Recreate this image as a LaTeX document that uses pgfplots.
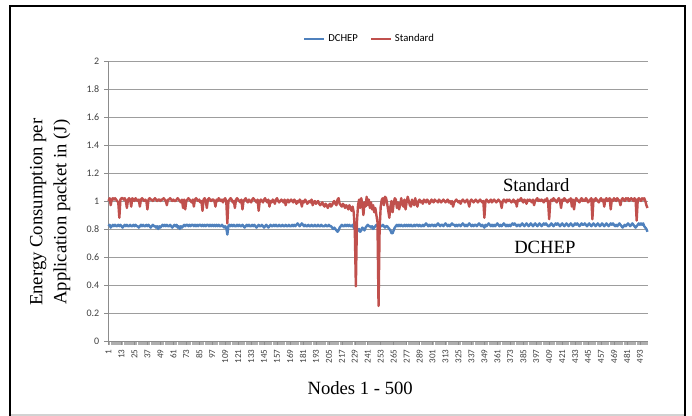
\documentclass[border=0pt]{standalone}
\usepackage{fontspec}
\setmainfont{Liberation Serif}
\newfontfamily\calibri{Carlito}
\usepackage{pgfplots}
\usepackage{pgfplotstable}
\pgfplotsset{compat=1.18}

\definecolor{xlblue}{HTML}{4F81BD}
\definecolor{xlred}{HTML}{C0504D}
\definecolor{xlgrid}{HTML}{8C8C8C}

% Standard, nodes 1-500
\pgfplotstableread[header=false,row sep=\\]{
1.00\\1.02\\0.97\\1.01\\1.02\\1.01\\1.02\\1.01\\1.00\\0.99\\
0.88\\1.01\\1.02\\1.02\\1.01\\1.02\\1.00\\0.95\\1.01\\1.02\\
1.01\\0.96\\1.02\\1.01\\1.00\\1.02\\1.01\\1.00\\1.01\\0.96\\
1.01\\1.02\\1.01\\1.00\\1.01\\1.00\\0.94\\1.01\\1.02\\1.01\\
1.01\\1.00\\1.01\\1.02\\1.01\\1.00\\1.01\\1.01\\1.00\\1.01\\
1.01\\1.02\\1.01\\1.00\\0.97\\1.01\\1.01\\1.02\\1.01\\1.00\\
1.01\\1.00\\1.00\\1.01\\1.02\\1.01\\1.00\\0.99\\1.01\\0.95\\
1.01\\0.94\\1.00\\1.01\\1.02\\1.01\\1.00\\0.99\\1.01\\0.96\\
1.01\\1.02\\1.01\\1.00\\1.01\\0.99\\1.00\\0.93\\1.01\\1.02\\
1.00\\0.95\\1.01\\1.02\\1.01\\1.00\\1.01\\1.01\\1.00\\0.96\\
1.01\\1.00\\1.02\\1.01\\1.00\\1.01\\0.99\\1.01\\1.02\\1.00\\
0.84\\1.00\\1.01\\1.02\\1.01\\0.99\\1.00\\0.95\\1.01\\1.02\\
1.01\\1.00\\0.99\\1.01\\0.94\\1.00\\1.01\\1.02\\1.00\\0.99\\
1.01\\1.00\\0.99\\1.01\\1.02\\1.01\\1.00\\0.99\\1.01\\0.93\\
1.00\\1.01\\1.00\\0.99\\1.01\\1.02\\1.00\\0.99\\1.01\\0.96\\
1.00\\0.99\\1.01\\1.00\\0.98\\1.01\\1.02\\1.00\\0.99\\1.00\\
1.01\\1.00\\0.99\\1.01\\0.97\\1.00\\1.01\\0.99\\1.00\\1.01\\
1.00\\0.99\\1.01\\1.00\\0.98\\1.00\\0.99\\1.01\\1.00\\0.96\\
1.00\\0.99\\1.01\\1.00\\0.98\\0.99\\1.00\\0.99\\1.01\\0.97\\
0.99\\1.00\\0.98\\0.99\\1.00\\0.98\\0.97\\0.98\\0.99\\0.97\\
0.96\\0.98\\0.97\\0.95\\0.97\\0.98\\0.96\\0.97\\0.99\\1.00\\
0.98\\0.97\\1.01\\1.02\\0.98\\0.97\\0.96\\0.98\\0.97\\0.95\\
0.97\\0.96\\0.94\\0.97\\0.95\\0.93\\0.96\\0.92\\0.80\\0.39\\
0.85\\0.97\\1.01\\0.95\\1.02\\0.98\\0.90\\0.99\\0.96\\1.03\\
0.97\\1.01\\0.95\\0.99\\0.94\\0.97\\0.92\\0.95\\0.90\\0.85\\
0.25\\0.80\\0.96\\1.01\\1.02\\0.97\\1.03\\1.02\\0.98\\0.93\\
0.88\\0.96\\1.00\\0.92\\0.98\\1.02\\1.01\\0.95\\0.99\\0.94\\
0.97\\1.02\\0.98\\0.96\\1.01\\0.94\\0.99\\1.03\\1.00\\0.97\\
0.96\\1.01\\0.99\\0.97\\1.02\\0.98\\0.96\\1.00\\1.01\\0.99\\
1.00\\0.98\\1.01\\1.00\\0.99\\1.01\\1.00\\0.98\\0.99\\1.01\\
1.00\\0.99\\1.01\\1.00\\1.00\\0.99\\1.01\\1.00\\0.99\\1.00\\
1.01\\1.00\\0.99\\1.00\\1.01\\0.99\\1.00\\0.98\\1.00\\0.96\\
0.99\\1.00\\1.01\\1.00\\0.99\\1.00\\0.98\\1.00\\1.01\\1.00\\
0.99\\1.00\\1.01\\0.99\\0.96\\1.00\\1.01\\1.00\\0.99\\1.00\\
1.01\\1.00\\0.99\\1.00\\1.01\\1.00\\0.99\\1.00\\0.88\\1.00\\
1.01\\1.00\\0.99\\1.00\\1.01\\0.99\\1.00\\1.01\\1.00\\0.99\\
1.00\\1.01\\1.00\\0.99\\0.95\\1.00\\1.01\\1.00\\0.99\\1.01\\
1.00\\1.01\\1.00\\0.99\\1.00\\1.01\\0.99\\1.00\\0.96\\1.01\\
1.00\\1.01\\1.02\\1.00\\0.99\\1.01\\1.00\\0.98\\1.01\\1.00\\
1.01\\1.00\\0.99\\1.01\\0.97\\1.00\\1.01\\1.02\\1.00\\1.01\\
1.00\\1.01\\1.00\\0.99\\1.01\\1.00\\1.02\\0.99\\0.87\\1.00\\
1.01\\1.00\\1.02\\1.01\\1.00\\0.99\\1.01\\1.02\\1.00\\0.95\\
1.01\\1.00\\1.02\\1.01\\1.00\\0.99\\1.01\\1.00\\1.02\\0.96\\
1.01\\0.94\\1.00\\1.02\\1.01\\1.00\\0.99\\1.01\\1.02\\1.00\\
1.01\\1.00\\1.02\\1.01\\0.99\\1.00\\1.01\\1.02\\0.87\\1.01\\
1.00\\1.02\\1.01\\1.00\\0.99\\1.01\\1.02\\1.00\\1.01\\0.96\\
1.01\\1.02\\1.00\\1.01\\1.02\\0.94\\1.01\\1.00\\1.02\\1.01\\
1.00\\1.02\\1.01\\1.00\\0.97\\1.01\\1.02\\1.01\\1.00\\1.02\\
1.01\\1.02\\1.00\\1.01\\1.02\\1.01\\1.00\\1.02\\1.01\\0.86\\
1.01\\1.02\\1.01\\1.00\\1.02\\1.01\\1.02\\1.00\\0.97\\0.95\\
}\standardtab

% DCHEP, nodes 1-500
\pgfplotstableread[header=false,row sep=\\]{
0.82\\0.83\\0.81\\0.82\\0.83\\0.82\\0.83\\0.82\\0.82\\0.83\\
0.82\\0.83\\0.82\\0.81\\0.82\\0.83\\0.82\\0.83\\0.82\\0.82\\
0.83\\0.82\\0.82\\0.83\\0.82\\0.83\\0.82\\0.82\\0.81\\0.82\\
0.83\\0.82\\0.83\\0.82\\0.82\\0.83\\0.82\\0.83\\0.82\\0.81\\
0.82\\0.83\\0.82\\0.82\\0.81\\0.82\\0.80\\0.82\\0.81\\0.82\\
0.83\\0.82\\0.83\\0.82\\0.83\\0.82\\0.82\\0.83\\0.82\\0.81\\
0.82\\0.83\\0.82\\0.83\\0.81\\0.82\\0.80\\0.82\\0.81\\0.82\\
0.83\\0.82\\0.83\\0.83\\0.82\\0.83\\0.82\\0.83\\0.83\\0.82\\
0.83\\0.82\\0.83\\0.82\\0.83\\0.83\\0.82\\0.83\\0.82\\0.83\\
0.82\\0.83\\0.83\\0.82\\0.83\\0.82\\0.83\\0.82\\0.83\\0.82\\
0.83\\0.82\\0.83\\0.82\\0.82\\0.83\\0.82\\0.81\\0.82\\0.81\\
0.76\\0.82\\0.83\\0.82\\0.83\\0.82\\0.83\\0.82\\0.82\\0.83\\
0.82\\0.83\\0.82\\0.82\\0.83\\0.82\\0.81\\0.82\\0.83\\0.82\\
0.83\\0.82\\0.82\\0.83\\0.82\\0.83\\0.82\\0.81\\0.82\\0.83\\
0.82\\0.82\\0.83\\0.82\\0.81\\0.82\\0.83\\0.82\\0.81\\0.82\\
0.83\\0.82\\0.82\\0.83\\0.82\\0.83\\0.82\\0.82\\0.83\\0.82\\
0.82\\0.83\\0.82\\0.82\\0.83\\0.82\\0.82\\0.83\\0.82\\0.82\\
0.83\\0.82\\0.83\\0.82\\0.83\\0.84\\0.83\\0.82\\0.83\\0.84\\
0.83\\0.82\\0.83\\0.82\\0.82\\0.83\\0.82\\0.82\\0.83\\0.82\\
0.82\\0.83\\0.82\\0.82\\0.83\\0.82\\0.82\\0.83\\0.82\\0.82\\
0.82\\0.83\\0.82\\0.82\\0.83\\0.82\\0.82\\0.81\\0.80\\0.81\\
0.80\\0.79\\0.78\\0.79\\0.81\\0.82\\0.83\\0.82\\0.82\\0.83\\
0.82\\0.83\\0.82\\0.83\\0.82\\0.82\\0.83\\0.81\\0.80\\0.79\\
0.78\\0.79\\0.80\\0.78\\0.79\\0.81\\0.80\\0.79\\0.81\\0.82\\
0.83\\0.82\\0.82\\0.81\\0.82\\0.80\\0.81\\0.82\\0.83\\0.82\\
0.82\\0.83\\0.82\\0.82\\0.83\\0.82\\0.81\\0.82\\0.82\\0.81\\
0.80\\0.79\\0.77\\0.77\\0.79\\0.81\\0.82\\0.83\\0.82\\0.83\\
0.82\\0.83\\0.82\\0.82\\0.83\\0.82\\0.83\\0.82\\0.83\\0.82\\
0.83\\0.82\\0.82\\0.83\\0.82\\0.83\\0.83\\0.82\\0.83\\0.82\\
0.82\\0.83\\0.82\\0.83\\0.84\\0.83\\0.82\\0.83\\0.82\\0.83\\
0.83\\0.82\\0.83\\0.82\\0.83\\0.84\\0.83\\0.82\\0.83\\0.83\\
0.82\\0.83\\0.84\\0.83\\0.82\\0.83\\0.82\\0.83\\0.84\\0.83\\
0.83\\0.82\\0.83\\0.82\\0.83\\0.83\\0.82\\0.83\\0.84\\0.83\\
0.82\\0.83\\0.82\\0.83\\0.84\\0.83\\0.82\\0.83\\0.82\\0.83\\
0.83\\0.82\\0.83\\0.84\\0.83\\0.82\\0.83\\0.82\\0.81\\0.83\\
0.82\\0.83\\0.84\\0.83\\0.82\\0.83\\0.82\\0.83\\0.82\\0.83\\
0.84\\0.83\\0.82\\0.83\\0.82\\0.83\\0.84\\0.83\\0.82\\0.83\\
0.82\\0.83\\0.82\\0.83\\0.84\\0.83\\0.84\\0.83\\0.82\\0.83\\
0.83\\0.82\\0.83\\0.84\\0.83\\0.82\\0.83\\0.84\\0.83\\0.82\\
0.83\\0.84\\0.83\\0.82\\0.83\\0.84\\0.83\\0.82\\0.83\\0.84\\
0.83\\0.82\\0.83\\0.84\\0.83\\0.84\\0.83\\0.82\\0.82\\0.83\\
0.84\\0.83\\0.82\\0.83\\0.84\\0.83\\0.84\\0.83\\0.82\\0.83\\
0.84\\0.83\\0.82\\0.83\\0.84\\0.83\\0.82\\0.83\\0.84\\0.83\\
0.82\\0.83\\0.84\\0.83\\0.84\\0.83\\0.82\\0.83\\0.84\\0.83\\
0.83\\0.84\\0.83\\0.82\\0.83\\0.84\\0.83\\0.82\\0.83\\0.84\\
0.83\\0.82\\0.83\\0.84\\0.83\\0.82\\0.83\\0.84\\0.83\\0.82\\
0.83\\0.84\\0.83\\0.82\\0.83\\0.84\\0.83\\0.84\\0.83\\0.82\\
0.83\\0.82\\0.83\\0.84\\0.83\\0.82\\0.81\\0.82\\0.83\\0.82\\
0.83\\0.84\\0.83\\0.82\\0.83\\0.84\\0.83\\0.82\\0.81\\0.82\\
0.83\\0.84\\0.83\\0.84\\0.83\\0.84\\0.82\\0.81\\0.80\\0.78\\
}\dchieptab

\begin{document}
\begin{tikzpicture}[x=0.75pt,y=0.75pt]
  \path[use as bounding box] (0,0) rectangle (692,416);
  % chart frame
  \draw[gray!35, line width=0.8pt] (10,1) -- (685,1);
  \draw[black, line width=2.2pt] (10,-20) -- (10,410) -- (685,410) -- (685,-20);

  \begin{axis}[
    at={(81pt,56.25pt)}, anchor=south west,
    scale only axis, width=405pt, height=210pt,
    xmin=0.5, xmax=500.5, ymin=0, ymax=2,
    axis x line*=bottom, axis y line*=left,
    axis line style={xlgrid, line width=0.6pt},
    ytick={0,0.2,0.4,0.6,0.8,1,1.2,1.4,1.6,1.8,2},
    yticklabels={0,0.2,0.4,0.6,0.8,1,1.2,1.4,1.6,1.8,2},
    xtick={1,13,...,493},
    minor xtick={1,...,500},
    ymajorgrids, grid style={xlgrid!85, line width=0.6pt},
    tick align=outside,
    major tick length=3pt, minor tick length=3pt,
    tick style={xlgrid, line width=0.4pt},
    minor tick style={xlgrid!70, line width=0.2pt},
    /pgf/number format/assume math mode=true,
    ticklabel style={font=\calibri\fontsize{7.5}{8}\selectfont, text=black!75},
    x tick label style={rotate=90, anchor=east, font=\calibri\fontsize{6.8}{7}\selectfont},
    xlabel={Nodes 1 - 500},
    xlabel style={at={(axis description cs:0.467,-0.168)}, anchor=center,
      font=\fontsize{14}{17}\selectfont},
    ylabel={Energy Consumption per\\Application packet in (J)},
    ylabel style={at={(axis description cs:-0.107,0.46)}, anchor=center,
      align=center, font=\fontsize{14}{18}\selectfont},
    legend columns=2,
    legend style={at={(axis description cs:0.485,1.079)}, anchor=center,
      draw=none, fill=none, font=\calibri\fontsize{8}{9}\selectfont,
      /tikz/every even column/.append style={column sep=7pt},
      inner sep=1pt},
    legend image code/.code={\draw[#1, line width=1.8pt] (0pt,0pt) -- (15pt,0pt);},
    clip=false,
  ]
    \addplot[xlblue, line width=1.8pt, line join=round]
      table[x expr=\coordindex+1, y index=0] {\dchieptab};
    \addplot[xlred, line width=1.8pt, line join=round]
      table[x expr=\coordindex+1, y index=0] {\standardtab};
    \legend{DCHEP, Standard}
    \node[font=\fontsize{14}{16}\selectfont] at (axis cs:397,1.114) {Standard};
    \node[font=\fontsize{14}{16}\selectfont] at (axis cs:405,0.671) {DCHEP};
  \end{axis}
\end{tikzpicture}
\end{document}
